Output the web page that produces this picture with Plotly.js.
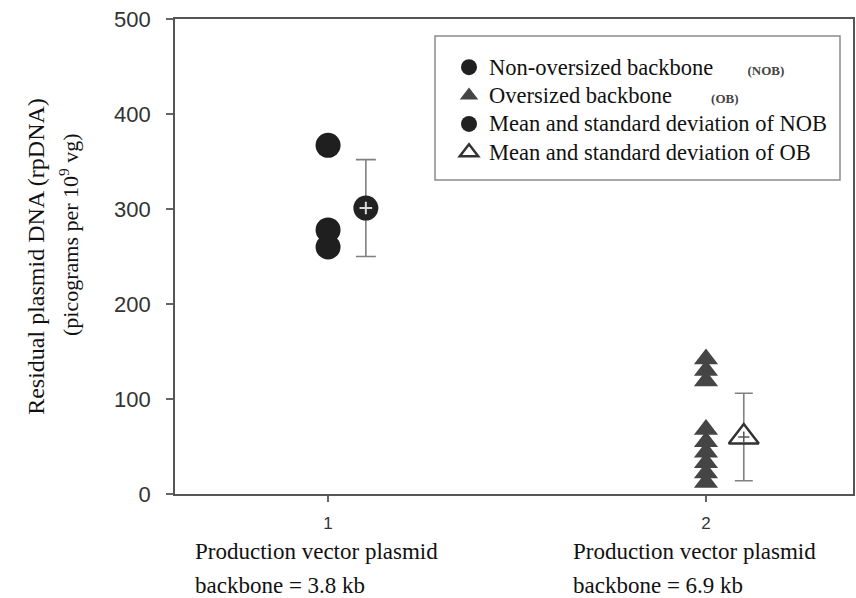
<!DOCTYPE html>
<html>
<head>
<meta charset="utf-8">
<script src="https://cdn.plot.ly/plotly-3.0.1.min.js"></script>
<style>
  html, body { margin: 0; padding: 0; background: #ffffff; }
  #chart { width: 856px; height: 598px; }
</style>
</head>
<body>
<div id="chart"></div>
<script>
// ---- data ----
const categories = [1, 2];
const tickLabels = ['1', '2'];
const xLabelLine1 = ['Production vector plasmid', 'Production vector plasmid'];
const xLabelLine2 = ['backbone = 3.8 kb', 'backbone = 6.9 kb'];
const yTitleLine1 = 'Residual plasmid DNA (rpDNA)';
const yTitleLine2 = '(picograms per 10<sup>9</sup> vg)';

const nobValues = [367, 278, 260];                            // non-oversized backbone, category 1
const obValues = [142, 130, 119, 68, 55, 44, 33, 22, 12];     // oversized backbone, category 2

const meanOffset = 0.1;
const nobMean = [301];
const nobSd = [51];
const obMean = [60];
const obSd = [46];

const legendNames = [
  'Non-oversized backbone',
  'Oversized backbone',
  'Mean and standard deviation of NOB',
  'Mean and standard deviation of OB'
];
const legendTags = ['(NOB)', '(OB)', '', ''];
const tagGaps = [7, 8, 0, 0];

// ---- build traces ----
const serif = 'Liberation Serif, Times New Roman, serif';
const sans = 'Liberation Sans, Arial, sans-serif';

function legendLabel(i) {
  let s = '<span style="font-size:22.5px">' + legendNames[i] + '</span>';
  if (legendTags[i]) {
    s += '\u00a0'.repeat(tagGaps[i]) + '<span style="font-size:13px;color:#444"><b>' + legendTags[i] + '</b></span>';
  }
  return s;
}

const nobX = nobValues.map(() => categories[0]);
const obX = obValues.map(() => categories[1]);
const nobMeanX = [categories[0] + meanOffset];
const obMeanX = [categories[1] + meanOffset];

const traces = [
  {
    type: 'scatter', mode: 'markers', x: nobX, y: nobValues, name: legendLabel(0),
    marker: { symbol: 'circle', size: 25, color: '#1f1f1f' }, cliponaxis: false
  },
  {
    type: 'scatter', mode: 'markers', x: obX, y: obValues, name: legendLabel(1),
    marker: { symbol: 'triangle-up', size: 21, color: '#454545' }, cliponaxis: false
  },
  {
    type: 'scatter', mode: 'markers', x: nobMeanX, y: nobMean, name: legendLabel(2),
    marker: { symbol: 'circle', size: 25, color: '#222222' },
    error_y: { type: 'data', array: nobSd, visible: true, color: '#808080', thickness: 1.6, width: 10 },
    cliponaxis: false
  },
  {
    type: 'scatter', mode: 'markers', x: obMeanX, y: obMean, name: legendLabel(3),
    marker: { symbol: 'triangle-up', size: 26, color: '#ffffff', line: { color: '#333333', width: 2.5 } },
    error_y: { type: 'data', array: obSd, visible: true, color: '#808080', thickness: 1.6, width: 9 },
    cliponaxis: false
  },
  {
    type: 'scatter', mode: 'markers', x: nobMeanX, y: nobMean, showlegend: false, hoverinfo: 'skip',
    marker: { symbol: 'cross-thin', size: 9, line: { color: '#d8d8d8', width: 2 } }, cliponaxis: false
  },
  {
    type: 'scatter', mode: 'markers', x: obMeanX, y: obMean, showlegend: false, hoverinfo: 'skip',
    marker: { symbol: 'cross-thin', size: 8, line: { color: '#555555', width: 1.5 } }, cliponaxis: false
  }
];

// ---- layout ----
const W = 856, H = 598;
const m = { l: 175, r: 3, t: 19, b: 104 };
const plotH = H - m.t - m.b;
const plotW = W - m.l - m.r;
const pyToPaper = (py) => (H - m.b - py) / plotH;
const pxToPaper = (px) => (px - m.l) / plotW;

const annotations = [];
categories.forEach((c, i) => {
  annotations.push({
    x: c - 0.357, xref: 'x', y: pyToPaper(551), yref: 'paper', xanchor: 'left', yanchor: 'middle',
    text: xLabelLine1[i], showarrow: false, align: 'left',
    font: { family: serif, size: 23, color: '#111111' }
  });
  annotations.push({
    x: c - 0.357, xref: 'x', y: pyToPaper(585), yref: 'paper', xanchor: 'left', yanchor: 'middle',
    text: xLabelLine2[i], showarrow: false, align: 'left',
    font: { family: serif, size: 23, color: '#111111' }
  });
});
annotations.push({
  x: pxToPaper(69), xref: 'paper', y: pyToPaper(234), yref: 'paper',
  xanchor: 'center', yanchor: 'middle', textangle: -90,
  text: yTitleLine2, showarrow: false,
  font: { family: serif, size: 22, color: '#111111' }
});

const layout = {
  width: W, height: H,
  margin: m,
  paper_bgcolor: '#ffffff', plot_bgcolor: '#ffffff',
  showlegend: true,
  legend: {
    x: pxToPaper(449), y: pyToPaper(48), xanchor: 'left', yanchor: 'top',
    bgcolor: 'rgba(0,0,0,0)', borderwidth: 0,
    font: { family: serif, size: 19.5, color: '#111111' },
    tracegroupgap: 0
  },
  xaxis: {
    range: [0.595, 2.389],
    tickvals: categories, ticktext: tickLabels,
    ticks: 'outside', ticklen: 6, tickcolor: '#666', tickwidth: 1.5,
    tickfont: { family: sans, size: 17, color: '#333' },
    ticklabelstandoff: 7,
    showline: true, linecolor: '#555', linewidth: 1.8, mirror: true,
    showgrid: false, zeroline: false
  },
  yaxis: {
    range: [0, 500],
    tickvals: [0, 100, 200, 300, 400, 500],
    ticks: 'outside', ticklen: 7, tickcolor: '#666', tickwidth: 1.5,
    tickfont: { family: sans, size: 22, color: '#333' },
    ticklabelstandoff: 11,
    showline: true, linecolor: '#555', linewidth: 1.8, mirror: true,
    showgrid: false, zeroline: false,
    title: {
      text: yTitleLine1,
      font: { family: serif, size: 24, color: '#111111' },
      standoff: 63
    }
  },
  shapes: [
    {
      type: 'rect', xref: 'paper', yref: 'paper',
      x0: pxToPaper(435), x1: pxToPaper(840), y0: pyToPaper(180), y1: pyToPaper(36),
      line: { color: '#8a8a8a', width: 1.5 }, fillcolor: 'rgba(0,0,0,0)', layer: 'below'
    }
  ],
  annotations: annotations
};

Plotly.newPlot('chart', traces, layout, { displayModeBar: false, staticPlot: true });
</script>
</body>
</html>
